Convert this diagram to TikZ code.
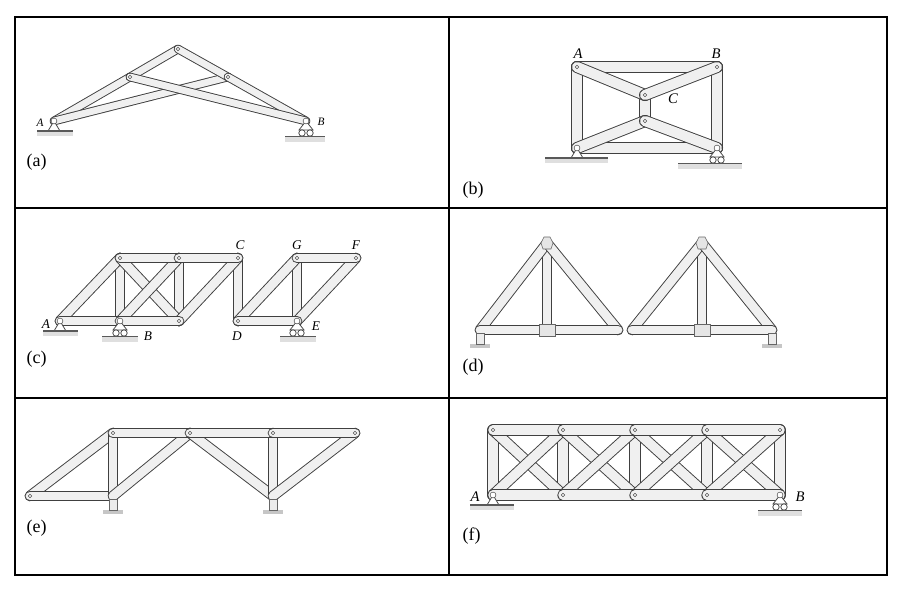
\documentclass[tikz,border=0pt]{standalone}
\usepackage{fontspec}
\setmainfont{Liberation Serif}
\begin{document}
\begin{tikzpicture}[x=0.75pt,y=-0.75pt,
  mo/.style={draw=black!75,line cap=round},
  mi/.style={draw=gray!12,line cap=round},
  tbl/.style={line width=0.8pt},
  lab/.style={font=\fontsize{10}{10}\selectfont\itshape},
  plab/.style={font=\fontsize{13.5}{13.5}\selectfont,anchor=west},
  gnd/.style={line width=1pt,draw=black!65},
  gsh/.style={fill=gray!25},
  pinc/.style={draw=black!70,fill=white,line width=0.4pt}]
\newcommand\mbr[3][6]{\draw[mo,line width=#1pt] (#2)--(#3); \draw[mi,line width=#1pt-1.4pt] (#2)--(#3);}
\newcommand\pj[1]{\draw[pinc] (#1) circle (1.3pt);}
\newcommand\pinsup[3]{%
  \draw[black!70,line width=0.6pt,fill=white] (#1) -- ++(-6,10) -- ++(12,0) -- cycle;
  \draw[pinc] (#1) circle (2.2pt);
  \path (#1) ++(0,10) coordinate (tmpg);
  \fill[gsh] (#2,0 |- tmpg) rectangle (#3,0 |- tmpg) ++(0,5);
  \path (#1) ++(0,15) coordinate (tmph);
  \fill[gsh] (#2,0 |- tmpg) rectangle (#3,0 |- tmph);
  \draw[gnd] (#2,0 |- tmpg) -- (#3,0 |- tmpg);}
\newcommand\rolsup[3]{%
  \draw[black!70,line width=0.6pt,fill=white] (#1) -- ++(-7,9) -- ++(14,0) -- cycle;
  \draw[pinc] (#1) circle (2.2pt);
  \path (#1) ++(-4,12) coordinate (tmpa) ++(8,0) coordinate (tmpb) ++(0,3.5) coordinate (tmpg) ++(0,5) coordinate (tmph);
  \fill[gsh] (#2,0 |- tmpg) rectangle (#3,0 |- tmph);
  \draw[pinc,line width=0.6pt] (tmpa) circle (2.4pt); \draw[pinc,line width=0.6pt] (tmpb) circle (2.4pt);
  \draw[gnd] (#2,0 |- tmpg) -- (#3,0 |- tmpg);}
\newcommand\plate[1]{\path (#1) ++(-10,14) coordinate (tmpp);
  \fill[gray!45] (tmpp) rectangle ++(20,4);
  \draw[black!60,fill=gray!15] (#1) ++(-4,3) rectangle ++(8,11);}
\useasboundingbox (0,0) rectangle (905,593);
\fill[white] (0,0) rectangle (905,593);
% table
\draw[tbl] (15,17) rectangle (887,575);
\draw[tbl] (449,17) -- (449,575);
\draw[tbl] (15,208) -- (887,208);
\draw[tbl] (15,398) -- (887,398);
% ---------- (a)
\coordinate (aA) at (54,121); \coordinate (aB) at (306,121);
\coordinate (aT) at (178,49); \coordinate (aL) at (130,77); \coordinate (aR) at (228,77);
\mbr[6.5]{aA}{aL}\mbr[6.5]{aL}{aT}\mbr[6.5]{aR}{aA}\mbr[6.5]{aT}{aR}\mbr[6.5]{aR}{aB}\mbr[6.5]{aL}{aB}
\foreach \p in {aA,aB,aT,aL,aR}{\pj{\p}}
\pinsup{aA}{37}{73}
\rolsup{aB}{285}{325}
\node[lab,font=\fontsize{8.5}{8.5}\selectfont\itshape] (laA) at (40,123) {A};
\node[lab,font=\fontsize{8.5}{8.5}\selectfont\itshape] (laB) at (321,122) {B};
\node[plab] (pa) at (22,162) {(a)};
% ---------- (b)
\coordinate (bA) at (577,67); \coordinate (bB) at (717,67);
\coordinate (bL) at (577,148); \coordinate (bR) at (717,148);
\coordinate (bC) at (645,95); \coordinate (bD) at (645,121);
\mbr[9]{bA}{bB}\mbr[9]{bL}{bR}\mbr[9]{bA}{bL}\mbr[9]{bB}{bR}\mbr[9]{bC}{bD}
\mbr[9]{bA}{bC}\mbr[9]{bB}{bC}\mbr[9]{bD}{bL}\mbr[9]{bD}{bR}
\foreach \p in {bA,bB,bL,bR,bC,bD}{\pj{\p}}
\pinsup{bL}{545}{608}
\rolsup{bR}{678}{742}
\node[lab,font=\fontsize{11}{11}\selectfont\itshape] (lbA) at (578,54) {A};
\node[lab,font=\fontsize{11}{11}\selectfont\itshape] (lbB) at (716,54) {B};
\node[lab,font=\fontsize{11}{11}\selectfont\itshape] (lbC) at (673,99) {C};
\node[plab] (pb) at (458,190) {(b)};
% ---------- (c)
\coordinate (cA) at (60,321); \coordinate (cB) at (120,321); \coordinate (cM) at (179,321);
\coordinate (cD) at (238,321); \coordinate (cE) at (297,321);
\coordinate (cT1) at (120,258); \coordinate (cT2) at (179,258); \coordinate (cC) at (238,258);
\coordinate (cG) at (297,258); \coordinate (cF) at (356,258);
\mbr[8]{cT1}{cB}\mbr[8]{cT2}{cM}\mbr[8]{cC}{cD}\mbr[8]{cG}{cE}
\mbr[8]{cA}{cT1}\mbr[8]{cT1}{cM}\mbr[8]{cB}{cT2}\mbr[8]{cM}{cC}\mbr[8]{cD}{cG}\mbr[8]{cE}{cF}
\mbr[8]{cA}{cB}\mbr[8]{cB}{cM}\mbr[8]{cD}{cE}
\mbr[8]{cT1}{cT2}\mbr[8]{cT2}{cC}\mbr[8]{cG}{cF}
\foreach \p in {cA,cB,cM,cD,cE,cT1,cT2,cC,cG,cF}{\pj{\p}}
\pinsup{cA}{43}{78}
\rolsup{cB}{102}{138}
\rolsup{cE}{280}{316}
\node[lab] (lcA) at (46,324) {A};
\node[lab] (lcB) at (148,336) {B};
\node[lab] (lcC) at (240,245) {C};
\node[lab] (lcG) at (297,245) {G};
\node[lab] (lcF) at (356,245) {F};
\node[lab] (lcD) at (237,336) {D};
\node[lab] (lcE) at (316,326) {E};
\node[plab] (pc) at (22,359) {(c)};
% ---------- (d)
\coordinate (dL1) at (480,330); \coordinate (dT1) at (547,243); \coordinate (dM1) at (547,330); \coordinate (dR1) at (618,330);
\coordinate (dL2) at (632,330); \coordinate (dT2) at (702,243); \coordinate (dM2) at (702,330); \coordinate (dR2) at (772,330);
\foreach \s in {1,2}{
  \mbr[8]{dT\s}{dM\s}\mbr[8]{dL\s}{dT\s}\mbr[8]{dT\s}{dR\s}\mbr[8]{dL\s}{dM\s}\mbr[8]{dM\s}{dR\s}
  \draw[black!60,fill=gray!20] (dT\s) ++(-6,0) -- ++(3,-6) -- ++(6,0) -- ++(3,6) -- ++(-2,6) -- ++(-8,0) -- cycle;
  \draw[black!60,fill=gray!20] (dM\s) ++(-8,-6) rectangle ++(16,12);
}
\plate{dL1}\plate{dR2}
\node[plab] (pd) at (458,367) {(d)};
% ---------- (e)
\coordinate (eL) at (30,496); \coordinate (eB1) at (113,496); \coordinate (eB2) at (273,496);
\coordinate (eT1) at (113,433); \coordinate (eT2) at (190,433); \coordinate (eT3) at (273,433); \coordinate (eT4) at (355,433);
\mbr[8]{eL}{eT1}\mbr[8]{eL}{eB1}\mbr[8]{eT1}{eB1}\mbr[8]{eB1}{eT2}\mbr[8]{eT2}{eB2}\mbr[8]{eT3}{eB2}\mbr[8]{eB2}{eT4}
\mbr[8]{eT1}{eT2}\mbr[8]{eT2}{eT3}\mbr[8]{eT3}{eT4}
\foreach \p in {eL,eT1,eT2,eT3,eT4}{\pj{\p}}
\plate{eB1}\plate{eB2}
\node[plab] (pe) at (22,528) {(e)};
% ---------- (f)
\foreach \i/\x in {0/493,1/563,2/635,3/707,4/780}{
  \coordinate (fT\i) at (\x,430); \coordinate (fB\i) at (\x,495);}
\foreach \i in {0,...,4}{\mbr[8.5]{fT\i}{fB\i}}
\foreach \i/\j in {0/1,1/2,2/3,3/4}{\mbr[8.5]{fT\i}{fB\j}\mbr[8.5]{fB\i}{fT\j}}
\foreach \i/\j in {0/1,1/2,2/3,3/4}{\mbr[8.5]{fT\i}{fT\j}\mbr[8.5]{fB\i}{fB\j}}
\foreach \i in {0,...,4}{\pj{fT\i}\pj{fB\i}}
\pinsup{fB0}{470}{514}
\rolsup{fB4}{758}{802}
\node[lab,font=\fontsize{11}{11}\selectfont\itshape] (lfA) at (475,497) {A};
\node[lab,font=\fontsize{11}{11}\selectfont\itshape] (lfB) at (800,497) {B};
\node[plab] (pf) at (458,536) {(f)};
\end{tikzpicture}
\end{document}
